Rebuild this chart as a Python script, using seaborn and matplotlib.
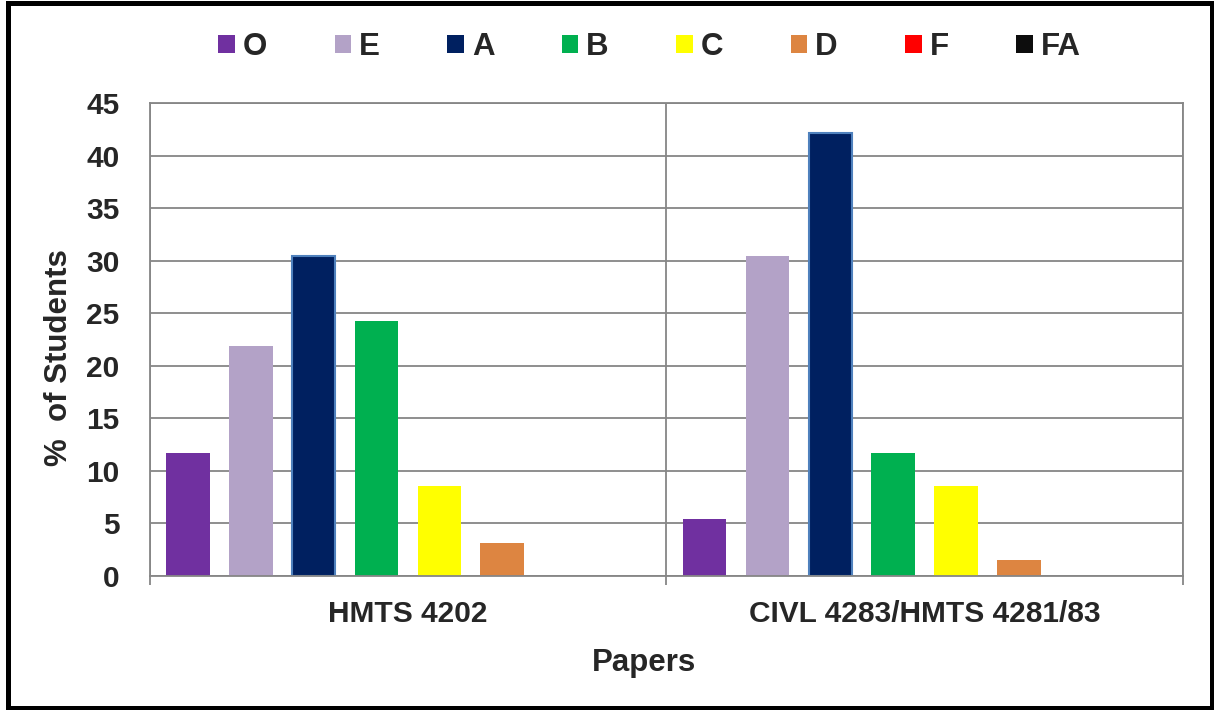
import pandas as pd
import seaborn as sns
import matplotlib.pyplot as plt
from matplotlib.patches import Rectangle

# data (% of students per grade)
papers = ["HMTS 4202", "CIVL 4283/HMTS 4281/83"]
grades = ["O", "E", "A", "B", "C", "D", "F", "FA"]
hmts_4202 = [11.72, 21.88, 30.47, 24.22, 8.59, 3.13, 0, 0]
civl_4283 = [5.47, 30.47, 42.19, 11.72, 8.59, 1.56, 0, 0]
grade_colors = ["#7030A0", "#B3A2C7", "#002060", "#00B050",
                "#FFFF00", "#DD8541", "#FF0000", "#0D0D0D"]

df = pd.DataFrame({
    "paper": [papers[0]] * len(grades) + [papers[1]] * len(grades),
    "grade": grades * 2,
    "percent": hmts_4202 + civl_4283,
})

sns.set_style("white")
plt.rcParams["font.family"] = ["Liberation Sans", "DejaVu Sans"]
plt.rcParams["font.weight"] = "bold"

grid_grey = "#868686"

fig = plt.figure(figsize=(12.14, 7.10), dpi=100)
ax = fig.add_axes([0.1232, 0.1887, 0.8513, 0.6662])

sns.barplot(data=df, x="paper", y="percent", hue="grade", hue_order=grades,
            palette=grade_colors, saturation=1, width=0.973, gap=0.307,
            linewidth=0, ax=ax)

# A bars carry a light blue outline in the original
for bar in ax.containers[grades.index("A")]:
    bar.set_edgecolor("#4F81BD")
    bar.set_linewidth(1.5)

ax.set_xlim(-0.5, 1.5)
ax.set_ylim(0, 45)
ax.set_yticks(range(0, 46, 5))
ax.set_xticks([-0.5, 0.5, 1.5], minor=True)

ax.yaxis.grid(True, color=grid_grey, lw=1.3)
ax.xaxis.grid(True, which="minor", color=grid_grey, lw=1.3)
ax.set_axisbelow(True)
for side in ax.spines.values():
    side.set_color(grid_grey)
    side.set_linewidth(1.3)

ax.tick_params(axis="y", which="major", direction="out", length=7.5,
               width=1.3, color=grid_grey, pad=14, labelsize=21.5)
ax.tick_params(axis="x", which="major", length=0, pad=17, labelsize=21.5)
ax.tick_params(axis="x", which="minor", bottom=True, direction="out",
               length=6.5, width=1.3, color=grid_grey)

ax.set_xlabel("Papers", fontsize=22.5, fontweight="bold", va="top")
ax.xaxis.set_label_coords(0.478, -0.152)
ax.set_ylabel("%  of Students", fontsize=22.5, fontweight="bold")
ax.yaxis.set_label_coords(-0.073, 0.461)

sns.move_legend(ax, "center", bbox_to_anchor=(0.535, 0.934),
                bbox_transform=fig.transFigure, ncol=8, title=None,
                frameon=False, fontsize=22.5, handlelength=0.53,
                handleheight=0.53, handletextpad=0.25, columnspacing=2.16)

# black frame around the whole picture
fig.add_artist(Rectangle((0.007, 0.0035), 0.991, 0.9925, fill=False,
                         ec="black", lw=3.6, transform=fig.transFigure))

fig.savefig("out.png", dpi=100)
